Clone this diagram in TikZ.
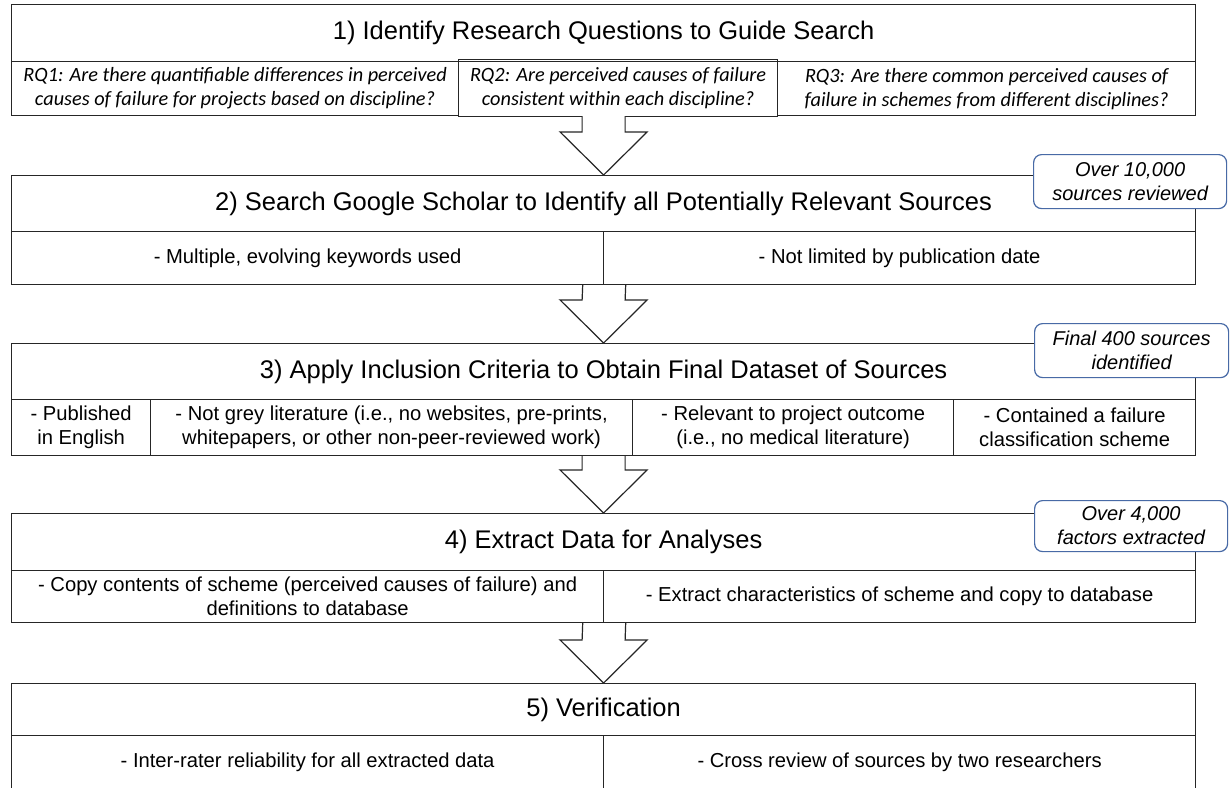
\documentclass[tikz,border=0pt]{standalone}
\usepackage{fontspec}
\setmainfont{Liberation Sans}
\newfontfamily\rqfont{Carlito}
\usetikzlibrary{calc}
\definecolor{calloutblue}{RGB}{72,106,166}

\begin{document}
\begin{tikzpicture}[x=1pt,y=-1pt,
    cell/.style={draw=black!85, line width=1.2pt, anchor=north west, inner sep=0pt, align=center},
    titlecell/.style={cell, minimum width=1184pt, font=\fontsize{25.5}{30}\selectfont},
    subcell/.style={cell, font=\fontsize{20.2}{24}\selectfont},
    rqcell/.style={cell, font=\rqfont\itshape\fontsize{20.3}{24}\selectfont},
    callout/.style={draw=calloutblue, line width=1.2pt, fill=white, rounded corners=8pt, anchor=north west,
        inner sep=0pt, align=center, font=\itshape\fontsize{20}{24}\selectfont},
    blockarrow/.style={draw=black!85, line width=1.2pt, fill=white, line join=miter}]
  \clip (0,0) rectangle (1230,787);
  \fill[white] (0,0) rectangle (1230,787);
  % step 1
  \node[titlecell, minimum height=57pt] (t1) at (11,4) {1) Identify Research Questions to Guide Search};
  \node[rqcell, minimum width=447pt, minimum height=54pt] (q1) at (11,61)
    {RQ1: Are there quantifiable differences in perceived\\causes of failure for projects based on discipline?};
  \node[rqcell, minimum width=418pt, minimum height=54pt] (q3) at (777,61)
    {RQ3: Are there common perceived causes of\\failure in schemes from different disciplines?};
  \node[rqcell, minimum width=319pt, minimum height=57pt] (q2) at (458,59)
    {RQ2: Are perceived causes of failure\\consistent within each discipline?};
  % step 2
  \node[titlecell, minimum height=56pt] (t2) at (11,175) {2) Search Google Scholar to Identify all Potentially Relevant Sources};
  \node[subcell, minimum width=592pt, minimum height=53pt] (s2a) at (11,231) {- Multiple, evolving keywords used};
  \node[subcell, minimum width=592pt, minimum height=53pt] (s2b) at (603,231) {- Not limited by publication date};
  % step 3
  \node[titlecell, minimum height=56pt] (t3) at (11,343) {3) Apply Inclusion Criteria to Obtain Final Dataset of Sources};
  \node[subcell, minimum width=139pt, minimum height=56pt] (s3a) at (11,399) {- Published\\in English};
  \node[subcell, minimum width=482pt, minimum height=56pt] (s3b) at (150,399)
    {- Not grey literature (i.e., no websites, pre-prints,\\whitepapers, or other non-peer-reviewed work)};
  \node[subcell, minimum width=321pt, minimum height=56pt] (s3c) at (632,399)
    {- Relevant to project outcome\\(i.e., no medical literature)};
  \node[subcell, minimum width=242pt, minimum height=56pt] (s3d) at (953,399)
    {- Contained a failure\\classification scheme};
  % step 4
  \node[titlecell, minimum height=57pt] (t4) at (11,513) {4) Extract Data for Analyses};
  \node[subcell, minimum width=592pt, minimum height=52pt] (s4a) at (11,570)
    {- Copy contents of scheme (perceived causes of failure) and\\definitions to database};
  \node[subcell, minimum width=592pt, minimum height=52pt] (s4b) at (603,570)
    {- Extract characteristics of scheme and copy to database};
  % step 5
  \node[titlecell, minimum height=52pt] (t5) at (11,683) {5) Verification};
  \node[subcell, minimum width=592pt, minimum height=54pt] (s5a) at (11,735) {- Inter-rater reliability for all extracted data};
  \node[subcell, minimum width=592pt, minimum height=54pt] (s5b) at (603,735) {- Cross review of sources by two researchers};
  % arrows between the steps
  \foreach \a/\b in {t1.south |- q1.south/t2.north, s2a.south east/t3.north,
      t3.south |- s3b.south/t4.north, s4a.south east/t5.north}{
    \coordinate (from) at (\a);
    \coordinate (to) at (\b);
    \draw[blockarrow] ($(from)+(-21.5,0)$) -- ($(to)+(-21.5,-43)$) -- ($(to)+(-43.5,-43)$) -- (to)
      -- ($(to)+(43.5,-43)$) -- ($(to)+(21.5,-43)$) -- ($(from)+(21.5,0)$);
  }
  % counts
  \node[callout, minimum width=193pt, minimum height=54pt] (c1) at (1033,154) {Over 10,000\\sources reviewed};
  \node[callout, minimum width=194pt, minimum height=54pt] (c2) at (1034,323) {Final 400 sources\\identified};
  \node[callout, minimum width=193pt, minimum height=51pt] (c3) at (1034,500) {Over 4,000\\factors extracted};
\end{tikzpicture}
\end{document}
